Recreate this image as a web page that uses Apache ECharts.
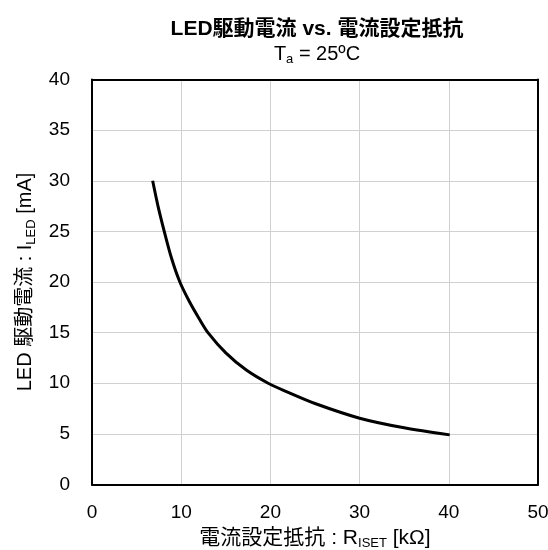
<!DOCTYPE html>
<html>
<head>
<meta charset="utf-8">
<script src="https://cdn.jsdelivr.net/npm/echarts@6/dist/echarts.min.js"></script>
<style>
html,body{margin:0;padding:0;background:#fff;}
#c{width:548px;height:550px;}
</style>
</head>
<body>
<div id="c"></div>
<script>
const resistance = [6.8, 7.4, 8.1, 8.9, 9.85, 10.9, 12.0, 13.0, 15.0, 17.3, 19.75, 22.0, 25.0, 30.0, 35.0, 40.1];
const current = [30.0, 27.5, 25.0, 22.4, 20.0, 18.1, 16.4, 15.0, 13.0, 11.3, 10.0, 9.1, 8.0, 6.55, 5.6, 4.9];
const xRange = [0, 50, 10];
const yRange = [0, 40, 5];
const titleText = 'LED駆動電流 vs. 電流設定抵抗';

const FONT = '"Liberation Sans", Arial, "Noto Sans CJK JP", sans-serif';
const chart = echarts.init(document.getElementById('c'), null, {renderer: 'canvas'});
const subStyle = {fontSize: 13, fontFamily: FONT, color: '#000', padding: [11, 0, 0, 0]};
const points = resistance.map((r, i) => [r, current[i]]);

chart.setOption({
  animation: false,
  backgroundColor: '#fff',
  title: [
    {text: titleText, left: 312, top: 14, textAlign: 'center',
     textStyle: {fontFamily: FONT, fontSize: 21, fontWeight: 'bold', color: '#000'}},
    {text: 'T{s|a} = 25ºC', left: 312, top: 37, textAlign: 'center',
     textStyle: {fontFamily: FONT, fontSize: 20, fontWeight: 'normal', color: '#000',
       rich: {s: subStyle}}}
  ],
  grid: {left: 92, right: 10, top: 79.5, bottom: 65.5, containLabel: false, outerBoundsMode: 'none'},
  xAxis: [
    {type: 'value', min: xRange[0], max: xRange[1], interval: xRange[2], position: 'bottom',
     name: '電流設定抵抗 : R{s|ISET} [kΩ]', nameLocation: 'middle', nameGap: 37,
     nameTextStyle: {fontFamily: FONT, fontSize: 21, color: '#000', rich: {s: subStyle}},
     axisLine: {show: true, onZero: false, lineStyle: {color: '#000', width: 2}},
     axisTick: {show: false},
     axisLabel: {fontFamily: FONT, fontSize: 19, color: '#000', margin: 19},
     splitLine: {show: true, lineStyle: {color: '#d0d0d0', width: 1}}},
    {type: 'value', min: xRange[0], max: xRange[1], position: 'top',
     axisLine: {show: true, onZero: false, lineStyle: {color: '#000', width: 2}},
     axisTick: {show: false}, axisLabel: {show: false}, splitLine: {show: false}}
  ],
  yAxis: [
    {type: 'value', min: yRange[0], max: yRange[1], interval: yRange[2], position: 'left',
     name: 'LED 駆動電流 : I{s|LED} [mA]', nameLocation: 'middle', nameGap: 45,
     nameTextStyle: {fontFamily: FONT, fontSize: 20, color: '#000', rich: {s: subStyle}},
     axisLine: {show: true, onZero: false, lineStyle: {color: '#000', width: 2}},
     axisTick: {show: false},
     axisLabel: {fontFamily: FONT, fontSize: 19, color: '#000', margin: 22},
     splitLine: {show: true, lineStyle: {color: '#d0d0d0', width: 1}}},
    {type: 'value', min: yRange[0], max: yRange[1], position: 'right',
     axisLine: {show: true, onZero: false, lineStyle: {color: '#000', width: 2}},
     axisTick: {show: false}, axisLabel: {show: false}, splitLine: {show: false}}
  ],
  series: [{
    type: 'line', xAxisIndex: 0, yAxisIndex: 0, data: points,
    smooth: 0.3, showSymbol: false, symbol: 'none',
    lineStyle: {color: '#000', width: 3}, z: 5
  }]
});
</script>
</body>
</html>
